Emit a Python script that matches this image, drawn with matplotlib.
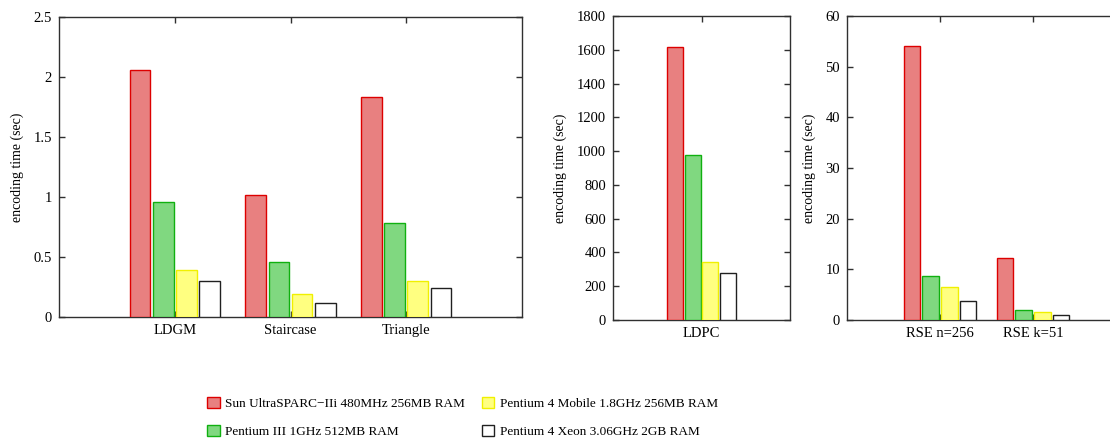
import matplotlib
matplotlib.use('Agg')
import matplotlib.pyplot as plt
from matplotlib.patches import Patch

plt.rcParams['font.family'] = ['Liberation Serif', 'DejaVu Serif']

# Machines (series)
machines = ["Sun UltraSPARC\u2212IIi 480MHz 256MB RAM",
            "Pentium III 1GHz 512MB RAM",
            "Pentium 4 Mobile 1.8GHz 256MB RAM",
            "Pentium 4 Xeon 3.06GHz 2GB RAM"]
fills = ['#e88080', '#80d880', '#ffff80', '#ffffff']
edges = ['#dd0000', '#10b010', '#f0f000', '#202020']

# Panel 1: LDGM family
codes_1 = ["LDGM", "Staircase", "Triangle"]
times_1 = [[2.06, 1.02, 1.83],
           [0.96, 0.46, 0.78],
           [0.39, 0.19, 0.30],
           [0.30, 0.12, 0.24]]

# Panel 2: LDPC
codes_2 = ["LDPC"]
times_2 = [[1615], [975], [345], [280]]

# Panel 3: RSE
codes_3 = ["RSE n=256", "RSE k=51"]
times_3 = [[54.0, 12.3],
           [8.7, 2.05],
           [6.45, 1.5],
           [3.7, 0.92]]

W, H = 1110, 438
fig = plt.figure(figsize=(W / 100, H / 100), dpi=100)


def box(l, r, t, b):
    return [l / W, (H - b) / H, (r - l) / W, (b - t) / H]


def panel(rect, codes, times, xmax, ymax, ystep, fmt):
    ax = fig.add_axes(rect)
    pos = list(range(1, len(codes) + 1))
    for i in range(4):
        xs = [p + (i - 1.5) * 0.2 for p in pos]
        ax.bar(xs, times[i], width=0.18, color=fills[i], edgecolor=edges[i],
               linewidth=1.0, zorder=3)
    ax.set_xlim(0, xmax)
    ax.set_ylim(0, ymax)
    ax.set_xticks(pos)
    ax.set_xticklabels(codes, fontsize=10.5)
    yt = [k * ystep for k in range(int(round(ymax / ystep)) + 1)]
    ax.set_yticks(yt)
    ax.set_yticklabels([fmt(v) for v in yt], fontsize=10.5)
    ax.tick_params(direction='in', top=True, right=True, length=4, width=1,
                   color='#303030', pad=5)
    for s in ax.spines.values():
        s.set_color('#303030')
        s.set_linewidth(1)
    ax.set_ylabel("encoding time (sec)", fontsize=10, labelpad=7)
    return ax


panel(box(59, 522, 17, 317), codes_1, times_1, 4, 2.5, 0.5,
      lambda v: ('%g' % v))
panel(box(613, 790, 16, 320), codes_2, times_2, 2, 1800, 200,
      lambda v: '%d' % v)
panel(box(847, 1126, 16, 320), codes_3, times_3, 3, 60, 10,
      lambda v: '%d' % v)

handles = [Patch(facecolor=fills[i], edgecolor=edges[i], linewidth=1)
           for i in range(4)]
fig.legend(handles, machines, ncol=2, loc='upper left',
           bbox_to_anchor=(207 / W, 1 - 397 / H), frameon=False,
           fontsize=9.5, handlelength=0.95, handleheight=0.95,
           handletextpad=0.4, columnspacing=1.3, labelspacing=1.1,
           borderpad=0, borderaxespad=0)

fig.savefig("out.png", dpi=100)
